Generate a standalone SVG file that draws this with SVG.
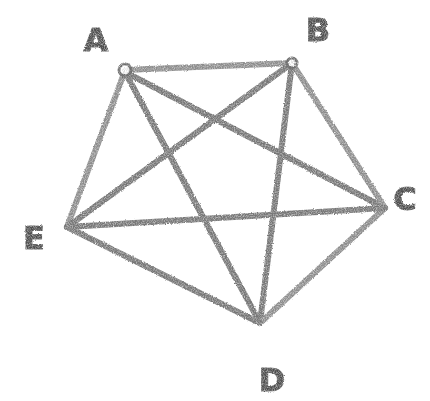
<svg xmlns="http://www.w3.org/2000/svg" width="430" height="401" viewBox="0 0 430 401">
  <defs>
    <filter id="pencil" x="-10%" y="-10%" width="120%" height="120%">
      <feTurbulence type="fractalNoise" baseFrequency="0.9" numOctaves="2" seed="3" result="noise"/>
      <feDisplacementMap in="SourceGraphic" in2="noise" scale="2.5" xChannelSelector="R" yChannelSelector="G" result="disp"/>
      <feColorMatrix in="noise" type="matrix" values="0 0 0 0 0  0 0 0 0 0  0 0 0 0 0  0 0 0 -1.2 1.45" result="grain"/>
      <feComposite in="disp" in2="grain" operator="in"/>
    </filter>
    <style>
      .edge { stroke: #767676; stroke-width: 6; stroke-linecap: round; fill: none; }
      .light { stroke: #8c8c8c; }
      .node { fill: #ffffff; stroke: #6e6e6e; stroke-width: 3; }
      .lbl { font-family: "DejaVu Sans", "Liberation Sans", sans-serif; font-size: 32px; font-weight: bold; fill: #4e4e4e; stroke: #5a5a5a; stroke-width: 1; text-anchor: middle; }
    </style>
  </defs>
  <rect width="430" height="401" fill="#ffffff"/>
  <g id="connectors" filter="url(#pencil)">
    <line class="edge light" x1="125" y1="70" x2="292" y2="63"/>
    <line class="edge" x1="125" y1="72" x2="385" y2="208"/>
    <line class="edge" x1="125" y1="72" x2="260" y2="323"/>
    <line class="edge light" x1="123" y1="76" x2="67" y2="227"/>
    <line class="edge light" x1="292" y1="63" x2="385" y2="208"/>
    <line class="edge" x1="292" y1="63" x2="260" y2="323"/>
    <line class="edge" x1="292" y1="63" x2="67" y2="227"/>
    <line class="edge light" x1="385" y1="208" x2="260" y2="323"/>
    <line class="edge" x1="385" y1="208" x2="67" y2="227"/>
    <line class="edge" x1="260" y1="323" x2="67" y2="227"/>
  </g>
  <g id="node-A" filter="url(#pencil)">
    <circle class="node" cx="125" cy="70" r="6"/>
    <text class="lbl" x="96" y="51">A</text>
  </g>
  <g id="node-B" filter="url(#pencil)">
    <circle class="node" cx="292" cy="63" r="5"/>
    <text class="lbl" x="318" y="41">B</text>
  </g>
  <g id="node-C" filter="url(#pencil)">
    <text class="lbl" x="405" y="210">C</text>
  </g>
  <g id="node-D" filter="url(#pencil)">
    <text class="lbl" x="272" y="391">D</text>
  </g>
  <g id="node-E" filter="url(#pencil)">
    <text class="lbl" x="34" y="249">E</text>
  </g>
</svg>
